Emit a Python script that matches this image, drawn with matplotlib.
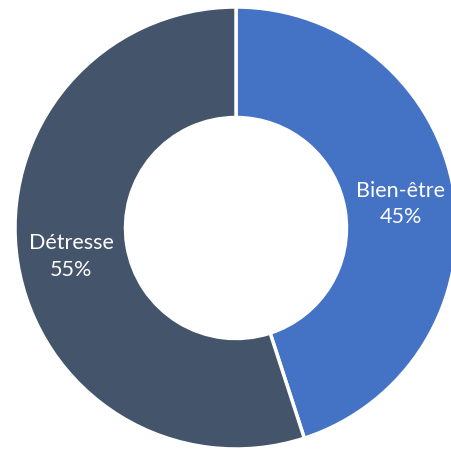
import matplotlib
matplotlib.use("Agg")
import matplotlib.pyplot as plt
import numpy as np

labels = ["Bien-être", "Détresse"]
values = [45, 55]
colors = ["#4472C4", "#44546A"]

plt.rcParams['font.family'] = ['Lato', 'DejaVu Sans']

fig = plt.figure(figsize=(4.52, 4.49), dpi=100)
# centre of the ring at about (236, 228) px, outer radius about 221 px
ax = fig.add_axes([15 / 452, (449 - 228 - 221) / 449, 442 / 452, 442 / 449])

wedges, _ = ax.pie(values, colors=colors, startangle=90, counterclock=False,
                   radius=1.0, wedgeprops=dict(width=0.5, edgecolor='white', linewidth=2.5))

total = sum(values)
for w, lab, v in zip(wedges, labels, values):
    ang = np.deg2rad((w.theta1 + w.theta2) / 2)
    r = 0.755
    ax.text(r * np.cos(ang), r * np.sin(ang) - 0.01, f"{lab}\n{round(100 * v / total)}%",
            ha='center', va='center', color='white', fontsize=15.5, linespacing=1.4)

ax.set_xlim(-1, 1)
ax.set_ylim(-1, 1)
ax.set_aspect('equal')
ax.axis('off')

fig.savefig("out.png", dpi=100)
